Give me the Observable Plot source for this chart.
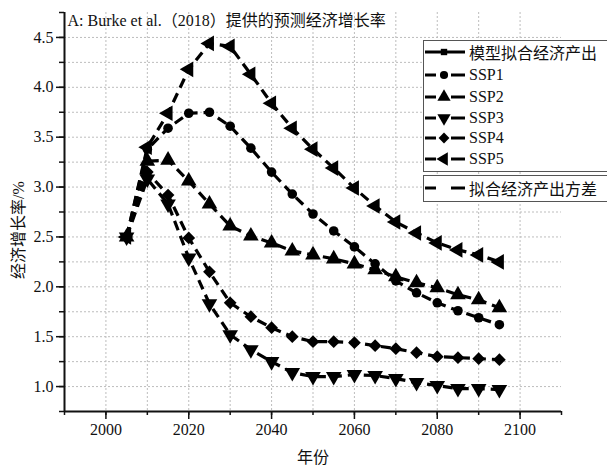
<!DOCTYPE html>
<html>
<head>
<meta charset="utf-8">
<script src="https://cdn.jsdelivr.net/npm/d3@7"></script>
<script src="https://cdn.jsdelivr.net/npm/@observablehq/plot@0.6"></script>
<style>
  html, body { margin: 0; padding: 0; background: #fff; overflow: hidden; }
  #wrap { position: relative; width: 607px; height: 469px; overflow: hidden; }
  .lg { position: absolute; border: 1px solid #555; background: #fff; }
  .row { position: absolute; left: 0; height: 22px; display: flex; align-items: center; white-space: nowrap;
         font-family: "Liberation Serif", "Noto Sans CJK SC", serif; font-size: 16px; color: #111; }
  .row svg { display: block; margin-right: 3px; }
</style>
</head>
<body>
<div id="wrap"></div>
<script>
// ---- data ----
const years = [2005, 2010, 2015, 2020, 2025, 2030, 2035, 2040, 2045, 2050, 2055, 2060, 2065, 2070, 2075, 2080, 2085, 2090, 2095];
const ssp1 = [2.50, 3.38, 3.59, 3.74, 3.75, 3.61, 3.39, 3.15, 2.93, 2.73, 2.56, 2.40, 2.23, 2.06, 1.94, 1.84, 1.76, 1.69, 1.62];
const ssp2 = [2.50, 3.26, 3.27, 3.06, 2.83, 2.61, 2.51, 2.44, 2.36, 2.32, 2.28, 2.23, 2.17, 2.10, 2.04, 1.99, 1.92, 1.87, 1.79];
const ssp3 = [2.50, 3.08, 2.83, 2.29, 1.83, 1.52, 1.37, 1.25, 1.14, 1.10, 1.10, 1.12, 1.11, 1.08, 1.04, 1.01, 0.98, 0.98, 0.97];
const ssp4 = [2.50, 3.15, 2.92, 2.49, 2.15, 1.84, 1.70, 1.59, 1.50, 1.45, 1.45, 1.44, 1.41, 1.38, 1.34, 1.30, 1.29, 1.28, 1.27];
const ssp5 = [2.50, 3.40, 3.74, 4.18, 4.44, 4.41, 4.13, 3.84, 3.59, 3.38, 3.19, 2.99, 2.81, 2.65, 2.54, 2.44, 2.37, 2.32, 2.25];
const modelYears = [2005];
const modelValues = [2.50];
const xTicks = [2000, 2020, 2040, 2060, 2080, 2100];
const yTicks = [1.0, 1.5, 2.0, 2.5, 3.0, 3.5, 4.0, 4.5];
const legendLabels = ["模型拟合经济产出", "SSP1", "SSP2", "SSP3", "SSP4", "SSP5"];
const varianceLabel = "拟合经济产出方差";
const titleText = "A: Burke et al.（2018）提供的预测经济增长率";
const xLabel = "年份";
const yLabel = "经济增长率/%";

// ---- symbols ----
const s3 = Math.sqrt(3);
function tri(dir) {
  return {
    draw(ctx, size) {
      const y = -Math.sqrt(size / (s3 * 3));
      if (dir === "up") { ctx.moveTo(0, y * 2); ctx.lineTo(-s3 * y, -y); ctx.lineTo(s3 * y, -y); }
      else if (dir === "down") { ctx.moveTo(0, -y * 2); ctx.lineTo(-s3 * y, y); ctx.lineTo(s3 * y, y); }
      else { ctx.moveTo(y * 2, 0); ctx.lineTo(-y, -s3 * y); ctx.lineTo(-y, s3 * y); }
      ctx.closePath();
    }
  };
}
const diamond = {
  draw(ctx, size) {
    const r = Math.sqrt(size) * 0.62;
    ctx.moveTo(0, -r); ctx.lineTo(r, 0); ctx.lineTo(0, r); ctx.lineTo(-r, 0); ctx.closePath();
  }
};
const series = [
  {name: "SSP1", values: ssp1, symbol: "circle", r: 4.8},
  {name: "SSP2", values: ssp2, symbol: tri("up"), r: 5.8},
  {name: "SSP3", values: ssp3, symbol: tri("down"), r: 5.8},
  {name: "SSP4", values: ssp4, symbol: diamond, r: 5.8},
  {name: "SSP5", values: ssp5, symbol: tri("left"), r: 5.8}
];

const FONT = '"Liberation Serif", "Noto Sans CJK SC", serif';
const dash = "10,6";
const marks = [];
marks.push(Plot.gridX(d3.range(2000, 2101, 10), {stroke: "#bdbdbd", strokeOpacity: 1, strokeDasharray: "2,2"}));
marks.push(Plot.gridY(d3.range(1, 4.51, 0.25), {stroke: "#bdbdbd", strokeOpacity: 1, strokeDasharray: "2,2"}));
marks.push(Plot.axisX(d3.range(1990, 2111, 10), {tickSize: 4, text: null, label: null, strokeWidth: 1.5}));
marks.push(Plot.axisX(xTicks, {tickSize: 8, tickPadding: 4, fontSize: 16, fontFamily: FONT, tickFormat: d => String(d), strokeWidth: 1.5, label: null}));
marks.push(Plot.axisY(d3.range(0.75, 4.76, 0.25), {tickSize: 5, text: null, label: null, strokeWidth: 1.5}));
marks.push(Plot.axisY(yTicks, {tickSize: 8, tickPadding: 3, fontSize: 16, fontFamily: FONT, tickFormat: d3.format(".1f"), strokeWidth: 1.5, label: null}));
marks.push(Plot.ruleX([1990], {strokeWidth: 2}));
marks.push(Plot.ruleY([0.75], {strokeWidth: 2}));
for (const s of series) {
  const data = years.map((y, i) => ({year: y, v: s.values[i]}));
  marks.push(Plot.line(data, {x: "year", y: "v", stroke: "#000", strokeWidth: 3.2, strokeDasharray: dash, strokeLinecap: "butt"}));
  marks.push(Plot.dot(data, {x: "year", y: "v", symbol: () => s.symbol, r: s.r, fill: "#000", stroke: "none"}));
}
const model = modelYears.map((y, i) => ({year: y, v: modelValues[i]}));
marks.push(Plot.line(model, {x: "year", y: "v", stroke: "#000", strokeWidth: 3}));
marks.push(Plot.dot(model, {x: "year", y: "v", symbol: "square", r: 4, fill: "#000", stroke: "none"}));
marks.push(Plot.text([titleText], {frameAnchor: "top-left", dx: 3, dy: 2, lineAnchor: "top", textAnchor: "start", fontSize: 16, fontFamily: FONT, fill: "#111"}));
marks.push(Plot.text([yLabel], {frameAnchor: "left", dx: -46, dy: 18, rotate: -90, textAnchor: "middle", lineAnchor: "middle", fontSize: 16, fontFamily: FONT, fill: "#111"}));
marks.push(Plot.text([xLabel], {frameAnchor: "bottom", dy: 46, lineAnchor: "middle", fontSize: 16, fontFamily: FONT, fill: "#111"}));

const chart = Plot.plot({
  width: 607, height: 469,
  marginLeft: 64, marginRight: 46, marginTop: 12, marginBottom: 58,
  x: {domain: [1990, 2110]},
  y: {domain: [0.75, 4.75]},
  symbol: {type: "identity"},
  style: {fontFamily: FONT, fontSize: "16px", color: "#111", background: "#fff", overflow: "visible"},
  marks
});
const wrap = document.getElementById("wrap");
wrap.appendChild(chart);

// ---- legend ----
function sample(kind, symbol, r) {
  const svg = d3.create("svg").attr("width", 42).attr("height", 20);
  if (kind === "solid") {
    svg.append("line").attr("x1", 1).attr("x2", 41).attr("y1", 10).attr("y2", 10).attr("stroke", "#000").attr("stroke-width", 3);
  } else {
    svg.append("line").attr("x1", 1).attr("x2", 12).attr("y1", 10).attr("y2", 10).attr("stroke", "#000").attr("stroke-width", 3);
    svg.append("line").attr("x1", 27).attr("x2", 41).attr("y1", 10).attr("y2", 10).attr("stroke", "#000").attr("stroke-width", 3);
  }
  if (symbol) {
    const sym = typeof symbol === "string" ? (symbol === "square" ? d3.symbolSquare : d3.symbolCircle) : symbol;
    svg.append("path").attr("transform", "translate(20,10)").attr("d", d3.symbol(sym, r * r * Math.PI)()).attr("fill", "#000");
  }
  return svg.node();
}
const box1 = document.createElement("div");
box1.className = "lg";
Object.assign(box1.style, {left: "423px", top: "40px", width: "200px", height: "130px"});
wrap.appendChild(box1);
const legendSyms = [{kind: "solid", symbol: "square", r: 3.6}].concat(series.map(s => ({kind: "dash", symbol: s.symbol, r: s.r * 0.85})));
const rowTops = [0, 23, 45, 66, 86, 107];
legendLabels.forEach((lab, i) => {
  const row = document.createElement("div");
  row.className = "row";
  row.style.top = rowTops[i] + "px";
  row.appendChild(sample(legendSyms[i].kind, legendSyms[i].symbol, legendSyms[i].r));
  row.appendChild(document.createTextNode(lab));
  box1.appendChild(row);
});
const box2 = document.createElement("div");
box2.className = "lg";
Object.assign(box2.style, {left: "423px", top: "175px", width: "200px", height: "25px"});
wrap.appendChild(box2);
const row2 = document.createElement("div");
row2.className = "row";
row2.style.top = "1px";
row2.appendChild(sample("dash", null, 0));
row2.appendChild(document.createTextNode(varianceLabel));
box2.appendChild(row2);
</script>
</body>
</html>
